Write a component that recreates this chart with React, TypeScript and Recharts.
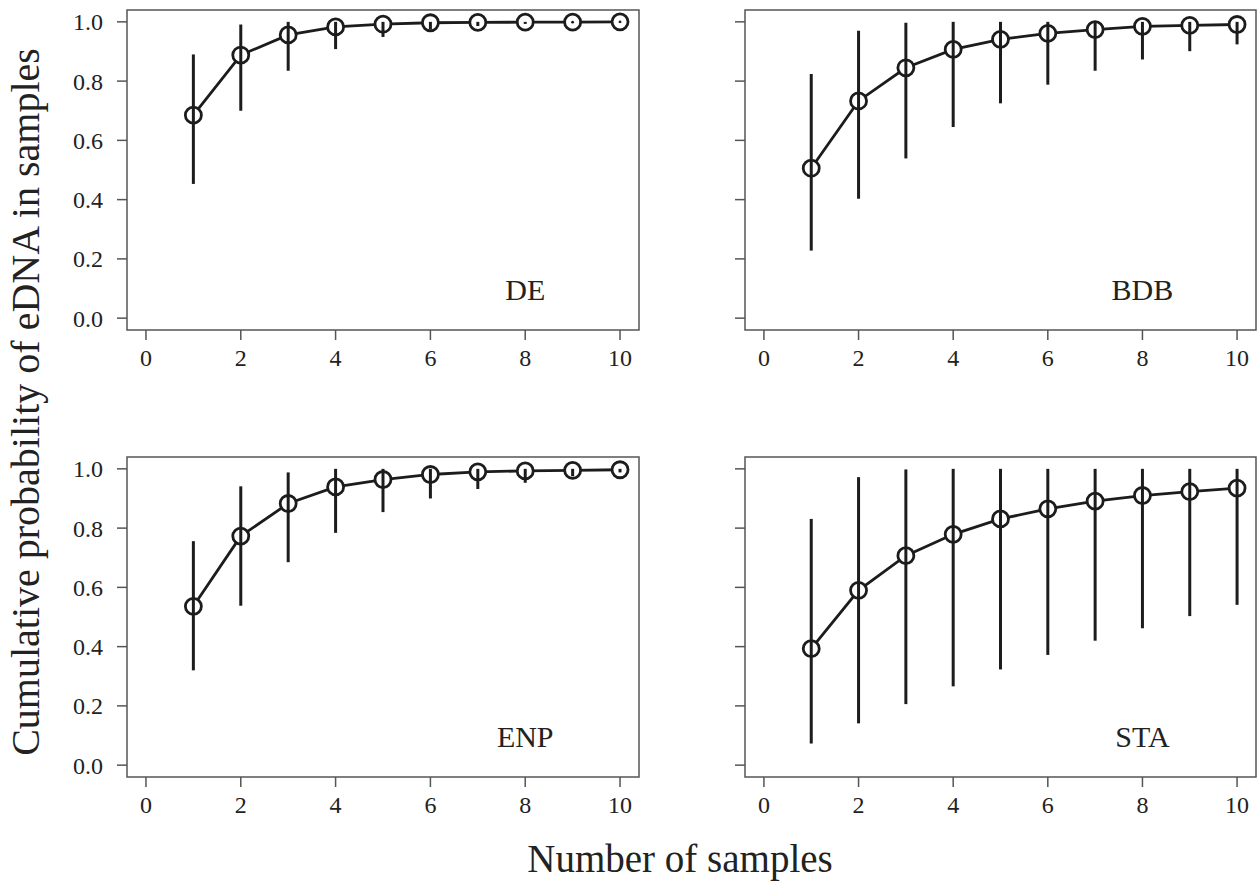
import React from 'react';
import { ComposedChart, Line, XAxis, YAxis, ErrorBar, ReferenceArea, ReferenceDot } from 'recharts';

const samples = [1, 2, 3, 4, 5, 6, 7, 8, 9, 10];

const deMean = [0.685, 0.888, 0.956, 0.983, 0.992, 0.997, 0.998, 0.999, 0.999, 1.0];
const deLower = [0.453, 0.7, 0.835, 0.908, 0.949, 0.975, 0.986, 0.993, 0.996, 0.998];
const deUpper = [0.89, 0.991, 1.0, 1.0, 1.0, 1.0, 1.0, 1.0, 1.0, 1.0];

const bdbMean = [0.506, 0.733, 0.845, 0.907, 0.941, 0.961, 0.974, 0.985, 0.988, 0.991];
const bdbLower = [0.228, 0.403, 0.539, 0.645, 0.725, 0.788, 0.835, 0.873, 0.901, 0.924];
const bdbUpper = [0.824, 0.97, 0.997, 1.0, 1.0, 1.0, 1.0, 1.0, 1.0, 1.0];

const enpMean = [0.536, 0.773, 0.883, 0.939, 0.964, 0.981, 0.99, 0.993, 0.995, 0.997];
const enpLower = [0.32, 0.538, 0.685, 0.784, 0.854, 0.9, 0.932, 0.953, 0.975, 0.988];
const enpUpper = [0.756, 0.941, 0.988, 1.0, 1.0, 1.0, 1.0, 1.0, 1.0, 1.0];

const staMean = [0.393, 0.59, 0.707, 0.779, 0.831, 0.865, 0.891, 0.91, 0.923, 0.935];
const staLower = [0.073, 0.141, 0.206, 0.266, 0.323, 0.372, 0.42, 0.462, 0.503, 0.541];
const staUpper = [0.831, 0.972, 0.998, 1.0, 1.0, 1.0, 1.0, 1.0, 1.0, 1.0];

const xTicks = [0, 2, 4, 6, 8, 10];
const yTicks = [0, 0.2, 0.4, 0.6, 0.8, 1.0];

const FONT = '"Liberation Serif", "Times New Roman", serif';
const INK = '#1c1c1c';
const FRAME = '#555';

const Y_DOMAIN: [number, number] = [-0.04, 1.04];
const PLOT_H = 320;
// pixels per unit on the y scale, used to draw the part of the bar that sits inside a circle
const PX_PER_UNIT = PLOT_H / (Y_DOMAIN[1] - Y_DOMAIN[0]);
const DOT_R = 8;

const build = (mean: number[], lower: number[], upper: number[]) =>
  samples.map((n, i) => ({
    n,
    mean: mean[i],
    lo: lower[i],
    hi: upper[i],
    err: [mean[i] - lower[i], upper[i] - mean[i]],
  }));

// R-style open circle: white inside so the joining line stops at the rim, with the
// interval bar still showing through it
const OpenDot = (props: any) => {
  const { cx, cy, payload } = props;
  if (cx == null || cy == null) return null;
  const up = Math.min(DOT_R, (payload.hi - payload.mean) * PX_PER_UNIT);
  const down = Math.min(DOT_R, (payload.mean - payload.lo) * PX_PER_UNIT);
  return (
    <g key={`d-${payload.n}`}>
      <circle cx={cx} cy={cy} r={DOT_R} fill="#fff" stroke={INK} strokeWidth={2.8} />
      <line x1={cx} x2={cx} y1={cy - up} y2={cy + down} stroke={INK} strokeWidth={3} />
      {up + down < 2 && <circle cx={cx} cy={cy} r={1.3} fill={INK} />}
    </g>
  );
};

interface PanelProps {
  title: string;
  mean: number[];
  lower: number[];
  upper: number[];
  left: number;
  top: number;
  plotWidth: number;
  showYLabels: boolean;
}

const Panel: React.FC<PanelProps> = ({ title, mean, lower, upper, left, top, plotWidth, showYLabels }) => {
  const data = build(mean, lower, upper);
  const axisW = 127;
  return (
    <div style={{ position: 'absolute', left: left - axisW, top: top - 10 }}>
      <ComposedChart
        width={axisW + plotWidth + 1}
        height={10 + PLOT_H + 50}
        data={data}
        margin={{ top: 10, right: 1, left: 0, bottom: 0 }}
      >
        <XAxis
          dataKey="n"
          type="number"
          domain={[-0.4, 10.4]}
          ticks={xTicks}
          allowDataOverflow
          axisLine={false}
          tickLine={{ stroke: FRAME, strokeWidth: 1.5 }}
          tickSize={10}
          tickMargin={9}
          height={50}
          fontSize={24}
          tick={{ fill: '#222', fontSize: 24, fontFamily: FONT }}
        />
        <YAxis
          type="number"
          domain={Y_DOMAIN}
          ticks={yTicks}
          allowDataOverflow
          axisLine={false}
          tickLine={{ stroke: FRAME, strokeWidth: 1.5 }}
          tickSize={10}
          tickMargin={14}
          width={axisW}
          fontSize={24}
          tickFormatter={(v: number) => (showYLabels ? v.toFixed(1) : '')}
          tick={{ fill: '#222', fontSize: 24, fontFamily: FONT }}
        />
        <ReferenceArea
          x1={-0.4}
          x2={10.4}
          y1={Y_DOMAIN[0]}
          y2={Y_DOMAIN[1]}
          fill="none"
          fillOpacity={0}
          stroke={FRAME}
          strokeWidth={1.5}
          ifOverflow="visible"
        />
        <Line
          dataKey="mean"
          stroke="none"
          isAnimationActive={false}
          dot={false}
          activeDot={false}
          legendType="none"
        >
          <ErrorBar dataKey="err" direction="y" width={0} stroke={INK} strokeWidth={3} />
        </Line>
        <Line
          dataKey="mean"
          stroke={INK}
          strokeWidth={2.8}
          isAnimationActive={false}
          dot={OpenDot}
          activeDot={false}
          legendType="none"
        />
        <ReferenceDot
          x={8}
          y={0.062}
          r={0}
          ifOverflow="visible"
          shape={(p: any) => (
            <text x={p.cx} y={p.cy} textAnchor="middle" fontSize={30} fontFamily={FONT} fill="#222">
              {title}
            </text>
          )}
        />
      </ComposedChart>
    </div>
  );
};

export default function App() {
  return (
    <div
      style={{
        position: 'absolute',
        left: 0,
        top: 0,
        width: 1257,
        height: 886,
        background: '#fff',
        fontFamily: FONT,
      }}
    >
      <Panel title="DE" mean={deMean} lower={deLower} upper={deUpper} left={127.3} top={10} plotWidth={512} showYLabels />
      <Panel title="BDB" mean={bdbMean} lower={bdbLower} upper={bdbUpper} left={745} top={10} plotWidth={511} showYLabels={false} />
      <Panel title="ENP" mean={enpMean} lower={enpLower} upper={enpUpper} left={127.3} top={457.3} plotWidth={512} showYLabels />
      <Panel title="STA" mean={staMean} lower={staLower} upper={staUpper} left={745} top={457.3} plotWidth={511} showYLabels={false} />
      <svg width={1257} height={886} style={{ position: 'absolute', left: 0, top: 0, pointerEvents: 'none' }}>
        <text
          x={25}
          y={402}
          transform="rotate(-90, 25, 402)"
          textAnchor="middle"
          dominantBaseline="central"
          fontSize={40}
          fontFamily={FONT}
          fill="#222"
        >
          Cumulative probability of eDNA in samples
        </text>
        <text x={680} y={872} textAnchor="middle" fontSize={39} fontFamily={FONT} fill="#222">
          Number of samples
        </text>
      </svg>
    </div>
  );
}
